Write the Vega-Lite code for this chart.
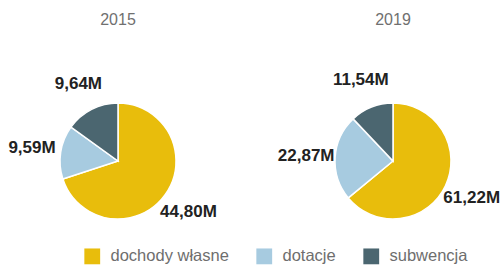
{
  "$schema": "https://vega.github.io/schema/vega-lite/v6.json",
  "padding": {"left": 0, "top": 12, "right": 0, "bottom": 0},
  "background": "white",
  "data": {
    "values": [
      {"year": "2015", "category": "dochody własne", "value": 44.80, "label": "44,80M"},
      {"year": "2015", "category": "dotacje", "value": 9.59, "label": "9,59M"},
      {"year": "2015", "category": "subwencja", "value": 9.64, "label": "9,64M"},
      {"year": "2019", "category": "dochody własne", "value": 61.22, "label": "61,22M"},
      {"year": "2019", "category": "dotacje", "value": 22.87, "label": "22,87M"},
      {"year": "2019", "category": "subwencja", "value": 11.54, "label": "11,54M"}
    ]
  },
  "facet": {
    "column": {
      "field": "year",
      "type": "ordinal",
      "header": {
        "title": null,
        "labelFont": "Liberation Sans",
        "labelFontSize": 16,
        "labelColor": "#707070",
        "labelPadding": 43
      }
    }
  },
  "spacing": 39,
  "spec": {
    "width": 236,
    "height": 124,
    "encoding": {
      "theta": {"field": "value", "type": "quantitative", "stack": true},
      "order": {"field": "category", "type": "ordinal", "sort": "ascending"},
      "color": {
        "field": "category",
        "type": "nominal",
        "scale": {
          "domain": ["dochody własne", "dotacje", "subwencja"],
          "range": ["#E8BD0C", "#A7CBE0", "#4B6670"]
        },
        "legend": {
          "title": null,
          "orient": "none",
          "direction": "horizontal",
          "legendX": 84,
          "legendY": 149,
          "symbolType": "square",
          "symbolSize": 250,
          "symbolStrokeWidth": 0,
          "labelFont": "Liberation Sans",
          "labelFontSize": 16.5,
          "labelColor": "#6e6e6e",
          "labelOffset": 10,
          "columnPadding": 27
        }
      }
    },
    "layer": [
      {"mark": {"type": "arc", "outerRadius": 58, "stroke": "white", "strokeWidth": 1.5}},
      {
        "mark": {"type": "text", "radius": 87, "font": "Liberation Sans", "fontSize": 17, "fontWeight": "bold", "align": "center", "baseline": "middle"},
        "encoding": {
          "text": {"field": "label"},
          "color": {"value": "#222222"}
        }
      }
    ]
  },
  "config": {"view": {"stroke": null}}
}
